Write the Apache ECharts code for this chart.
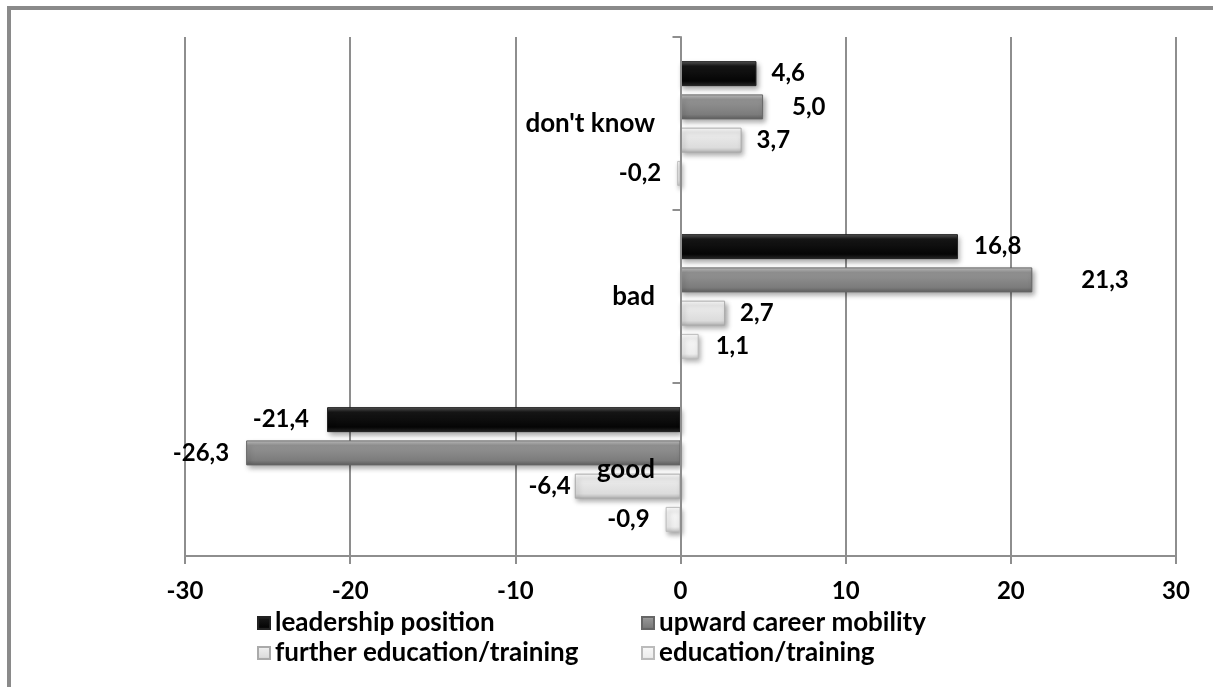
<!DOCTYPE html>
<html><head><meta charset="utf-8">
<script src="https://cdn.jsdelivr.net/npm/echarts@6/dist/echarts.min.js"></script>
<style>html,body{margin:0;padding:0;background:#fff}#c{width:1213px;height:687px}</style>
</head><body><div id="c"></div>
<script>
// ---- data ----
const categories = ['good', 'bad', "don't know"];
const seriesNames = ['leadership position', 'upward career mobility', 'further education/training', 'education/training'];
const leadership = [-21.4, 16.8, 4.6];
const upward = [-26.3, 21.3, 5.0];
const furtherEdu = [-6.4, 2.7, 3.7];
const education = [-0.9, 1.1, -0.2];
const xMin = -30, xMax = 30, xStep = 10;

// ---- styling ----
const FONT = 'Lato';
const fills = [
  ['#5a5a5a', '#161616', '#050505', '#2a2a2a'],
  ['#c4c4c4', '#949494', '#7c7c7c', '#5e5e5e'],
  ['#ffffff', '#ececec', '#dcdcdc', '#b4b4b4'],
  ['#ffffff', '#f6f6f6', '#ededed', '#c6c6c6']
];
const borders = ['#222', '#666', '#aaa', '#bbb'];
// label distance overrides [series][category]
const labelGap = [[18, 16, 15], [17, 49, 29], [4, 15, 15], [16, 17, 16]];

function grad(c) {
  return new echarts.graphic.LinearGradient(0, 0, 0, 1, [
    {offset: 0, color: c[0]}, {offset: 0.2, color: c[1]},
    {offset: 0.8, color: c[2]}, {offset: 1, color: c[3]}
  ]);
}
const values = [leadership, upward, furtherEdu, education];
const fmt = v => v.toFixed(1).replace('.', ',');

const series = values.map((arr, si) => ({
  name: seriesNames[si],
  type: 'bar',
  barWidth: 25,
  barGap: '33%',
  z: 2,
  itemStyle: {
    color: grad(fills[si]),
    borderColor: borders[si],
    borderWidth: 1,
    shadowBlur: 5,
    shadowColor: 'rgba(0,0,0,0.35)',
    shadowOffsetX: 2,
    shadowOffsetY: 3
  },
  data: arr.map((v, ci) => ({
    value: v,
    label: {
      show: true,
      position: v >= 0 ? 'right' : 'left',
      distance: labelGap[si][ci],
      formatter: p => fmt(p.value),
      fontFamily: FONT, fontWeight: 'bold', fontSize: 24, color: '#000'
    }
  }))
}));

const chart = echarts.init(document.getElementById('c'), null, {renderer: 'canvas'});
chart.setOption({
  animation: false,
  backgroundColor: '#fff',
  grid: {left: 185, right: 37, top: 37, bottom: 131, containLabel: false},
  xAxis: {
    type: 'value', min: xMin, max: xMax, interval: xStep,
    axisLine: {show: true, lineStyle: {color: '#8e8e8e', width: 2}},
    axisTick: {show: true, length: 8, lineStyle: {color: '#8e8e8e', width: 2}},
    splitLine: {show: true, lineStyle: {color: '#8e8e8e', width: 2}},
    axisLabel: {margin: 23, fontFamily: FONT, fontWeight: 'bold', fontSize: 24, color: '#000'}
  },
  yAxis: {
    type: 'category', data: categories, z: 10,
    axisLine: {show: true, onZero: true, lineStyle: {color: '#8e8e8e', width: 2}},
    axisTick: {show: true, length: 8, lineStyle: {color: '#8e8e8e', width: 2}},
    axisLabel: {margin: -470, fontFamily: FONT, fontWeight: 'bold', fontSize: 26, color: '#000'}
  },
  legend: [
    {
      data: [seriesNames[0], seriesNames[2]], orient: 'vertical', left: 252, top: 603,
      itemWidth: 12, itemHeight: 12, itemGap: 0, icon: 'rect',
      textStyle: {fontFamily: FONT, fontWeight: 'bold', fontSize: 26, color: '#000', lineHeight: 30}
    },
    {
      data: [seriesNames[1], seriesNames[3]], orient: 'vertical', left: 636, top: 603,
      itemWidth: 12, itemHeight: 12, itemGap: 0, icon: 'rect',
      textStyle: {fontFamily: FONT, fontWeight: 'bold', fontSize: 26, color: '#000', lineHeight: 30}
    }
  ],
  graphic: [{
    type: 'rect', shape: {x: 9, y: 8, width: 1300, height: 800},
    style: {fill: 'none', stroke: '#8a8a8a', lineWidth: 4}, silent: true, z: 100
  }],
  series: series
});
</script></body></html>
